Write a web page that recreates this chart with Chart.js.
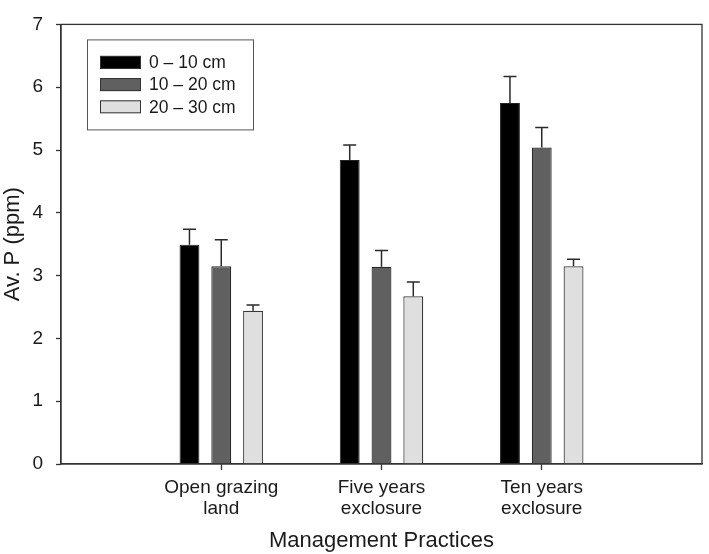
<!DOCTYPE html>
<html>
<head>
<meta charset="utf-8">
<script src="https://cdn.jsdelivr.net/npm/chart.js@4.4.1/dist/chart.umd.min.js"></script>
<style>
  html, body { margin: 0; padding: 0; background: #ffffff; }
  #wrap { position: relative; width: 709px; height: 554px; }
</style>
</head>
<body>
<div id="wrap"><canvas id="c" width="709" height="554"></canvas></div>
<script>
// ---- data ----
const categories = ['', ['Open grazing', 'land'], ['Five years', 'exclosure'], ['Ten years', 'exclosure'], ''];
const seriesLabels = ['0 \u2013 10 cm', '10 \u2013 20 cm', '20 \u2013 30 cm'];
const depth0to10 = [null, 3.49, 4.84, 5.75, null];
const depth10to20 = [null, 3.15, 3.14, 5.04, null];
const depth20to30 = [null, 2.44, 2.67, 3.15, null];
const err0to10 = [null, 0.25, 0.24, 0.42, null];
const err10to20 = [null, 0.42, 0.26, 0.32, null];
const err20to30 = [null, 0.09, 0.23, 0.11, null];
const yTicks = [0, 1, 2, 3, 4, 5, 6, 7];
const xTitle = 'Management Practices';
const yTitle = 'Av. P (ppm)';

const FONT = "'Liberation Sans', Arial, Helvetica, sans-serif";
const fills = ['#000000', '#606060', '#dfdfdf'];

const errorBarPlugin = {
  id: 'errorBars',
  afterDatasetsDraw(chart) {
    const ctx = chart.ctx;
    const y = chart.scales.y;
    ctx.save();
    ctx.strokeStyle = '#2a2a2a';
    ctx.lineWidth = 1.5;
    chart.data.datasets.forEach((ds, di) => {
      const meta = chart.getDatasetMeta(di);
      meta.data.forEach((bar, i) => {
        const v = ds.data[i];
        const e = ds.errors[i];
        if (v == null || e == null) return;
        const yTop = y.getPixelForValue(v + e);
        const yBase = y.getPixelForValue(v);
        ctx.beginPath();
        ctx.moveTo(bar.x, yBase);
        ctx.lineTo(bar.x, yTop);
        ctx.moveTo(bar.x - 6.5, yTop);
        ctx.lineTo(bar.x + 6.5, yTop);
        ctx.stroke();
      });
    });
    ctx.restore();
  }
};

const frameLegendPlugin = {
  id: 'frameLegend',
  afterDraw(chart) {
    const ctx = chart.ctx;
    const a = chart.chartArea;
    ctx.save();
    ctx.strokeStyle = '#333333';
    ctx.lineWidth = 1.3;
    ctx.strokeRect(a.left, a.top, a.right - a.left, a.bottom - a.top);
    // legend box
    const lx = a.left + 26, ly = a.top + 15, lw = 166, lh = 90;
    ctx.lineWidth = 1;
    ctx.strokeStyle = '#555555';
    ctx.strokeRect(lx + 0.5, ly + 0.5, lw, lh);
    chart.data.datasets.forEach((ds, i) => {
      const cy = ly + 23 + i * 22.2;
      ctx.fillStyle = ds.backgroundColor;
      ctx.fillRect(lx + 13, cy - 6.5, 41, 13);
      ctx.strokeStyle = '#333333';
      ctx.strokeRect(lx + 13.5, cy - 6, 40, 12);
      ctx.fillStyle = '#1a1a1a';
      ctx.font = '17.5px ' + FONT;
      ctx.textBaseline = 'middle';
      ctx.textAlign = 'left';
      ctx.fillText(ds.label, lx + 62, cy + 1);
    });
    ctx.restore();
  }
};

new Chart(document.getElementById('c'), {
  type: 'bar',
  data: {
    labels: categories,
    datasets: [
      { label: seriesLabels[0], data: depth0to10, errors: err0to10, backgroundColor: fills[0], borderColor: '#222222', borderWidth: 1 },
      { label: seriesLabels[1], data: depth10to20, errors: err10to20, backgroundColor: fills[1], borderColor: '#2a2a2a', borderWidth: 1.2 },
      { label: seriesLabels[2], data: depth20to30, errors: err20to30, backgroundColor: fills[2], borderColor: '#3a3a3a', borderWidth: 1.2 }
    ]
  },
  options: {
    responsive: false,
    animation: false,
    devicePixelRatio: 1,
    layout: { padding: { top: 13, right: 3, left: 0, bottom: 0 } },
    datasets: { bar: { categoryPercentage: 0.595, barPercentage: 0.625, skipNull: false } },
    plugins: { legend: { display: false }, tooltip: { enabled: false } },
    scales: {
      x: {
        type: 'category',
        offset: false,
        border: { display: true, color: '#333333', width: 1.3 },
        grid: {
          offset: false,
          drawOnChartArea: false,
          tickLength: 6,
          tickWidth: 1.3,
          tickColor: (c) => (c.index === 0 || c.index === categories.length - 1) ? 'rgba(0,0,0,0)' : '#333333'
        },
        ticks: {
          color: '#1a1a1a',
          font: { family: FONT, size: 19, lineHeight: 1.12 },
          padding: 7,
          maxRotation: 0,
          autoSkip: false
        },
        title: {
          display: true,
          text: xTitle,
          color: '#1a1a1a',
          font: { family: FONT, size: 22 },
          padding: { top: 0, bottom: 0 }
        },
        afterFit(scale) { scale.height = 90; }
      },
      y: {
        min: 0,
        max: 7,
        afterBuildTicks(scale) { scale.ticks = yTicks.map(v => ({ value: v })); },
        border: { display: true, color: '#333333', width: 1.3 },
        grid: { drawOnChartArea: false, tickLength: 5, tickWidth: 1.3, tickColor: '#333333' },
        ticks: {
          color: '#1a1a1a',
          font: { family: FONT, size: 19 },
          padding: 13
        },
        title: {
          display: true,
          text: yTitle,
          color: '#1a1a1a',
          font: { family: FONT, size: 22 },
          padding: { top: 0, bottom: 0 }
        },
        afterFit(scale) { scale.width = 61; }
      }
    }
  },
  plugins: [errorBarPlugin, frameLegendPlugin]
});
</script>
</body>
</html>
